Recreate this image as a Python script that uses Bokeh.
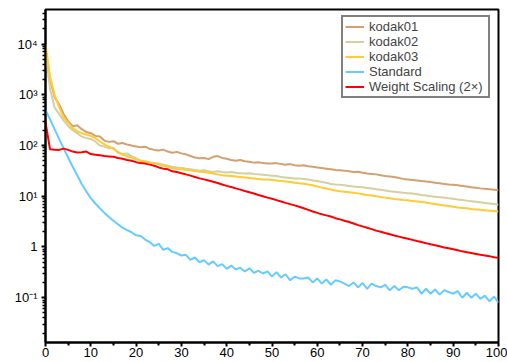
from bokeh.plotting import figure
from bokeh.models import Range1d, FixedTicker, CustomJSTickFormatter, Legend, LegendItem
from bokeh.embed import file_html
from bokeh.resources import INLINE

epochs = list(range(0, 101))

kodak01 = [8500, 2000, 900, 650, 420, 300, 240, 250, 210, 185,
           175, 155, 150, 125, 118, 122, 108, 112, 105, 100,
           96, 92, 95, 86, 82, 80, 83, 76, 72, 75,
           70, 67, 62, 58, 56, 57, 54, 60, 62, 57,
           55, 52, 50, 52, 49, 48, 46, 47, 45, 44,
           44, 45, 43, 42, 43, 41, 40, 41, 39, 38,
           37, 36, 35, 34, 33, 32.5, 32, 31, 30, 30.5,
           29, 28, 27.5, 27, 26, 25, 24.5, 24, 23, 22,
           21.5, 21, 20.5, 20, 19.5, 19, 18.5, 18, 17.5, 17,
           16.8, 16.4, 16, 15.5, 15, 14.7, 14.3, 14, 13.8, 13.5,
           13.2]

kodak02 = [7000, 1300, 560, 420, 310, 240, 200, 175, 150, 140,
           135, 120, 100, 95, 88, 90, 72, 68, 70, 62,
           56, 50, 49, 47, 45, 44, 42, 40, 38, 37,
           36.5, 35, 34, 33, 32, 32.5, 31, 30, 31, 30,
           29.5, 30, 29, 28.5, 28, 28.5, 27.5, 27, 26.5, 26,
           25.5, 25, 24, 23.5, 23, 22.5, 22.5, 22, 21.5, 20.5,
           20, 19, 18.5, 17.5, 17, 16.8, 16.5, 16, 15.5, 15.3,
           15, 14.6, 14.2, 13.8, 13.4, 13, 12.6, 12.3, 12, 11.7,
           11.5, 11.3, 11, 10.6, 10.3, 10, 9.8, 9.6, 9.4, 9.1,
           8.9, 8.6, 8.4, 8.2, 8, 7.8, 7.6, 7.4, 7.2, 7,
           6.8]

kodak03 = [10000, 2300, 1000, 580, 360, 280, 220, 190, 175, 165,
           155, 140, 120, 105, 95, 85, 75, 66, 62, 58,
           54, 50, 48, 46, 45, 43, 40, 38, 36, 35,
           34, 33, 32, 31, 30.5, 30, 29, 28, 27, 26,
           25.5, 25, 24.5, 24, 23.5, 23, 22.5, 22, 21.5, 21.5,
           21, 20.5, 20, 19.5, 19, 18.5, 18, 17.6, 17, 16.5,
           15.5, 14.8, 14.2, 13.6, 13, 12.6, 12.3, 12, 11.7, 11.4,
           11, 10.6, 10.3, 10, 9.7, 9.4, 9.1, 8.8, 8.6, 8.4,
           8.3, 8.1, 7.9, 7.7, 7.5, 7.2, 7, 6.8, 6.6, 6.4,
           6.2, 6, 5.9, 5.8, 5.6, 5.5, 5.4, 5.3, 5.2, 5.1,
           5.0]

standard = [500, 330, 210, 135, 88, 58, 38, 26, 17.5, 12.5,
            9.2, 7.2, 5.8, 4.7, 3.9, 3.3, 2.8, 2.4, 2.15, 1.95,
            1.7, 1.65, 1.4, 1.25, 1.05, 1.15, 0.88, 0.95, 0.8, 0.75,
            0.68, 0.7, 0.56, 0.62, 0.5, 0.55, 0.45, 0.52, 0.42, 0.46,
            0.37, 0.43, 0.36, 0.39, 0.33, 0.38, 0.31, 0.34, 0.3, 0.33,
            0.26, 0.32, 0.25, 0.29, 0.22, 0.26, 0.24, 0.24, 0.25, 0.2,
            0.24, 0.19, 0.23, 0.18, 0.22, 0.21, 0.19, 0.17, 0.2, 0.16,
            0.195, 0.15, 0.19, 0.17, 0.16, 0.18, 0.14, 0.17, 0.14, 0.165,
            0.16, 0.15, 0.16, 0.12, 0.15, 0.12, 0.145, 0.115, 0.14, 0.13,
            0.12, 0.135, 0.1, 0.125, 0.1, 0.12, 0.095, 0.11, 0.085, 0.105,
            0.08]

weight_scaling = [290, 84, 83, 82, 87, 82, 76, 73, 74, 76,
                  68, 66, 64, 62, 61, 60, 57, 55, 52, 50,
                  47, 45, 44, 42, 40, 37, 35, 34, 31, 30,
                  28.5, 27, 25.5, 24, 22.5, 21.5, 20.5, 19.3, 18.3, 17,
                  16, 15.2, 14.3, 13.5, 12.7, 12.0, 11.3, 10.6, 10.0, 9.4,
                  8.9, 8.4, 7.9, 7.4, 7.0, 6.6, 6.2, 5.8, 5.4, 5.0,
                  4.7, 4.4, 4.2, 4.0, 3.7, 3.5, 3.3, 3.1, 2.9, 2.7,
                  2.55, 2.4, 2.25, 2.1, 2.0, 1.88, 1.78, 1.68, 1.6, 1.52,
                  1.45, 1.38, 1.31, 1.25, 1.19, 1.13, 1.08, 1.03, 0.98, 0.94,
                  0.9, 0.86, 0.82, 0.79, 0.76, 0.73, 0.7, 0.68, 0.66, 0.63,
                  0.61]

series_names = ["kodak01", "kodak02", "kodak03", "Standard", "Weight Scaling (2\u00d7)"]
series_values = [kodak01, kodak02, kodak03, standard, weight_scaling]
series_colors = ["#D4A070", "#D6CFA0", "#FFCC33", "#66CCFF", "#FF0000"]

x_ticks = [0, 10, 20, 30, 40, 50, 60, 70, 80, 90, 100]
x_minor = [5, 15, 25, 35, 45, 55, 65, 75, 85, 95]
y_ticks = [0.1, 1, 10, 100, 1000, 10000]

FONT = "Liberation Sans"

p = figure(width=507, height=362, output_backend="svg", toolbar_location=None,
           y_axis_type="log",
           x_range=Range1d(0, 100), y_range=Range1d(0.0131, 48000),
           min_border_left=45, min_border_right=9, min_border_top=9, min_border_bottom=20)

p.xgrid.visible = False
p.ygrid.visible = False
p.outline_line_color = "black"
p.outline_line_width = 2
p.background_fill_color = "white"
p.border_fill_color = "white"

items = []
for name, vals, col in zip(series_names, series_values, series_colors):
    r = p.line(epochs, vals, line_color=col, line_width=2)
    items.append(LegendItem(label=name, renderers=[r]))

# x axis
p.xaxis.ticker = FixedTicker(ticks=x_ticks, minor_ticks=x_minor)
p.xaxis.axis_line_width = 2
p.xaxis.major_tick_in = 0
p.xaxis.major_tick_out = 4
p.xaxis.minor_tick_in = 0
p.xaxis.minor_tick_out = 3
p.xaxis.major_tick_line_width = 2
p.xaxis.minor_tick_line_width = 2
p.xaxis.major_label_standoff = 1
p.xaxis.major_label_text_font = FONT
p.xaxis.major_label_text_font_size = "13px"
p.xaxis.major_label_text_color = "black"

# y axis
minor = []
for e in range(-2, 5):
    for m in range(2, 10):
        minor.append(m * 10.0 ** e)
p.yaxis.ticker = FixedTicker(ticks=y_ticks, minor_ticks=minor)
p.yaxis.formatter = CustomJSTickFormatter(code="""
const e = Math.round(Math.log10(tick));
if (e == 0) { return "1"; }
const sup = {"-": "\u207b", "0": "\u2070", "1": "\u00b9", "2": "\u00b2", "3": "\u00b3", "4": "\u2074", "5": "\u2075"};
return "10" + String(e).split("").map(c => sup[c]).join("");
""")
p.yaxis.axis_line_width = 2
p.yaxis.major_tick_in = 0
p.yaxis.major_tick_out = 4
p.yaxis.minor_tick_in = 0
p.yaxis.minor_tick_out = 3
p.yaxis.major_tick_line_width = 2
p.yaxis.minor_tick_line_width = 1.5
p.yaxis.major_label_standoff = 4
p.yaxis.major_label_text_font = FONT
p.yaxis.major_label_text_font_size = "13px"
p.yaxis.major_label_text_color = "black"

legend = Legend(items=items, location=(296, 244))
legend.border_line_color = "black"
legend.border_line_width = 2
legend.background_fill_color = "white"
legend.background_fill_alpha = 1
legend.label_text_font = FONT
legend.label_text_font_size = "13px"
legend.label_height = 15
legend.glyph_height = 15
legend.glyph_width = 19
legend.label_width = 117
legend.label_standoff = 5
legend.spacing = 0
legend.padding = 2
legend.margin = 0
p.add_layout(legend, "center")

open("out.html", "w").write(file_html(p, INLINE))
